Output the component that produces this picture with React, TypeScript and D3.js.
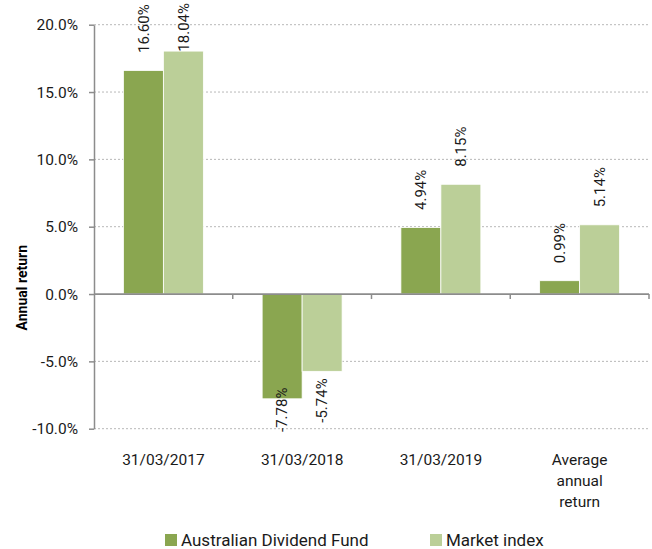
import {useEffect, useRef} from 'react'
import * as d3 from 'd3'

const categories = ['31/03/2017', '31/03/2018', '31/03/2019', 'Average annual return']
const categoryLines = [['31/03/2017'], ['31/03/2018'], ['31/03/2019'], ['Average', 'annual', 'return']]
const seriesNames = ['Australian Dividend Fund', 'Market index']
const fundValues = [0.166, -0.0778, 0.0494, 0.0099]
const indexValues = [0.1804, -0.0574, 0.0815, 0.0514]
const yTicks = [-0.1, -0.05, 0, 0.05, 0.1, 0.15, 0.2]

const colors = ['#8aa650', '#bbcf98']
const font = 'Roboto, "Noto Sans", sans-serif'

// excel style: plain hyphen for negatives
const pct1 = (v: number) => d3.format('.1%')(v).replace('\u2212', '-')
const pct2 = (v: number) => d3.format('.2%')(v).replace('\u2212', '-')

const App = () => {
	const ref = useRef<SVGSVGElement>(null)

	useEffect(() => {
		const svg = d3.select(ref.current)
		svg.selectAll('*').remove()

		const left = 94, right = 649, top = 24.7, bottom = 428.7

		const y = d3.scaleLinear().domain([-0.1, 0.2]).range([bottom, top])
		const x = d3.scaleBand().domain(categories).range([left, right]).padding(0)
		const sub = d3.scaleBand().domain(seriesNames).range([0, x.bandwidth()])
			.paddingInner(0).paddingOuter(0.735)

		// gridlines
		svg.append('g')
			.selectAll('line')
			.data(yTicks.filter(d => d !== 0))
			.enter()
			.append('line')
			.attr('x1', left).attr('x2', right)
			.attr('y1', d => y(d)).attr('y2', d => y(d))
			.attr('stroke', '#b8b8b8')
			.attr('stroke-dasharray', '2,2')
			.attr('stroke-width', 1)

		// bars
		const rows = categories.map((c, i) => [
			{cat: c, s: seriesNames[0], v: fundValues[i]},
			{cat: c, s: seriesNames[1], v: indexValues[i]},
		]).flat()

		svg.append('g')
			.selectAll('rect')
			.data(rows)
			.enter()
			.append('rect')
			.attr('x', d => (x(d.cat) as number) + (sub(d.s) as number))
			.attr('width', sub.bandwidth())
			.attr('y', d => y(Math.max(0, d.v)))
			.attr('height', d => Math.abs(y(d.v) - y(0)))
			.attr('fill', d => d.s === seriesNames[0] ? colors[0] : colors[1])
			.attr('stroke', '#fff')
			.attr('stroke-width', 0.8)

		// y axis
		const yAxis = d3.axisLeft(y)
			.tickValues(yTicks)
			.tickFormat(d => pct1(d as number))
			.tickSize(5)
			.tickSizeOuter(0)
		const ya = svg.append('g')
			.attr('transform', `translate(${left},0)`)
			.call(yAxis)
		ya.select('.domain').attr('stroke', '#8c8c8c').attr('stroke-width', 1.5)
		ya.selectAll('.tick line').attr('stroke', '#8c8c8c').attr('stroke-width', 1.5)
		ya.selectAll('.tick text')
			.attr('x', -16)
			.attr('fill', '#1a1a1a')
			.style('font-family', font)
			.style('font-size', '15.5px')

		// zero line with boundary ticks
		const zy = y(0)
		svg.append('line')
			.attr('x1', left).attr('x2', right)
			.attr('y1', zy).attr('y2', zy)
			.attr('stroke', '#8c8c8c')
			.attr('stroke-width', 1.8)
		svg.append('g')
			.selectAll('line')
			.data(categories)
			.enter()
			.append('line')
			.attr('x1', d => (x(d) as number) + x.bandwidth())
			.attr('x2', d => (x(d) as number) + x.bandwidth())
			.attr('y1', zy).attr('y2', zy + 5)
			.attr('stroke', '#8c8c8c')
			.attr('stroke-width', 1.5)

		// category labels
		svg.append('g')
			.selectAll('text')
			.data(categories)
			.enter()
			.append('text')
			.attr('x', d => (x(d) as number) + x.bandwidth() / 2)
			.attr('y', 465)
			.attr('text-anchor', 'middle')
			.attr('fill', '#1a1a1a')
			.style('font-family', font)
			.style('font-size', '15.5px')
			.each(function (d, i) {
				d3.select(this).selectAll('tspan')
					.data(categoryLines[i])
					.enter()
					.append('tspan')
					.attr('x', (x(d) as number) + x.bandwidth() / 2)
					.attr('dy', (_, j) => j === 0 ? 0 : 20.8)
					.text(t => t)
			})

		// value labels
		const labels = svg.append('g')
			.selectAll('text')
			.data(rows)
			.enter()
			.append('text')
			.attr('fill', '#1a1a1a')
			.attr('text-anchor', 'start')
			.attr('dy', '0.35em')
			.style('font-family', font)
			.style('font-size', '15px')
			.text(d => pct2(d.v))

		labels.each(function (d) {
			const len = (this as SVGTextElement).getComputedTextLength()
			const cx = (x(d.cat) as number) + (sub(d.s) as number) + sub.bandwidth() / 2
			let start
			if (d.v >= 0) {
				start = Math.max(y(d.v) - 17.5, 3 + len)
			} else {
				start = Math.min(y(d.v) + 7 + len, 432)
			}
			d3.select(this).attr('transform', `translate(${cx},${start}) rotate(-90)`)
		})

		// y title
		svg.append('text')
			.attr('transform', `translate(22,${(top + bottom) / 2 + 61}) rotate(-90)`)
			.attr('text-anchor', 'middle')
			.attr('dy', '0.35em')
			.attr('fill', '#000')
			.style('font-family', font)
			.style('font-size', '14px')
			.style('font-weight', 'bold')
			.text('Annual return')

		// legend
		const legendX = [165, 430]
		const lg = svg.append('g')
			.selectAll('g')
			.data(seriesNames)
			.enter()
			.append('g')
			.attr('transform', (d, i) => `translate(${legendX[i]},534)`)
		lg.append('rect')
			.attr('width', 12).attr('height', 12)
			.attr('fill', (d, i) => colors[i])
		lg.append('text')
			.attr('x', 16)
			.attr('y', 11.5)
			.attr('fill', '#1a1a1a')
			.style('font-family', font)
			.style('font-size', '17px')
			.text(d => d)
	}, [])

	return (
		<svg ref={ref} width={652} height={549}
			style={{position: 'absolute', left: 0, top: 0, background: '#fff'}}/>
	)
}

export default App
